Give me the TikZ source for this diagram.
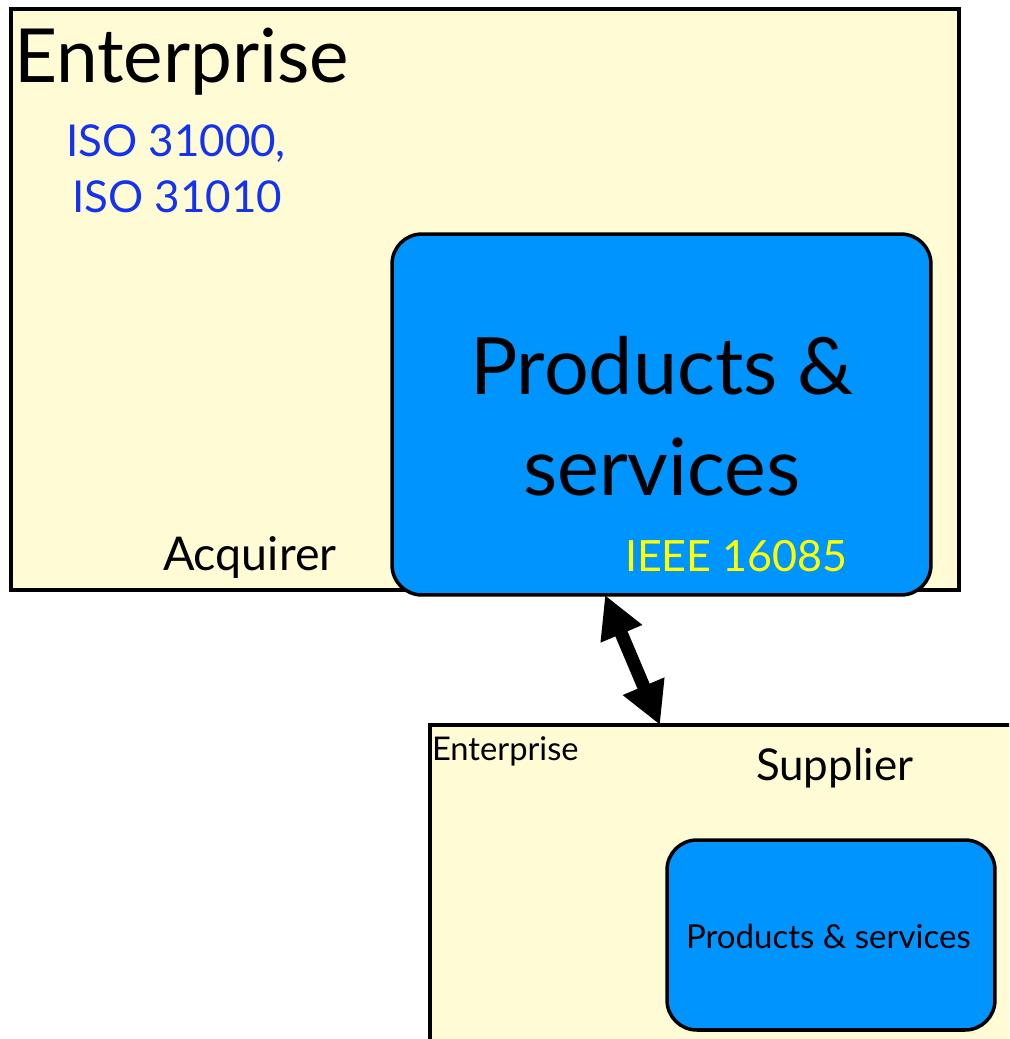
\documentclass[tikz,border=0pt]{standalone}
\usepackage{fontspec}
\setmainfont{Lato}
\usetikzlibrary{arrows.meta}
\definecolor{paper}{RGB}{255,252,213}
\definecolor{prodblue}{RGB}{0,148,255}
\definecolor{isoblue}{RGB}{20,50,240}
\definecolor{ieeeyellow}{RGB}{255,255,0}

\begin{document}
\begin{tikzpicture}[x=0.02cm, y=-0.02cm, every node/.style={inner sep=0pt, outer sep=0pt},
	box/.style={draw=black, line width=2pt, fill=paper},
	prodbox/.style={draw=black, line width=2pt, fill=prodblue, rounded corners=17pt},
	lbl/.style={anchor=base west}]
			\useasboundingbox (0,0) rectangle (1009,1039);
			\clip (0,0) rectangle (1009,1039);
			
			% acquirer side
			\node[box, minimum width=18.96cm, minimum height=11.62cm] (acq) at (485,299.5){};
			\node[prodbox, minimum width=10.78cm, minimum height=7.22cm] (prod) at (661.5,414.5){};
			
			\node[lbl, font=\fontsize{42.5}{50}\selectfont] (ent1) at (14,82){Enterprise};
			\node[lbl, text=isoblue, font=\fontsize{25}{30}\selectfont] (iso1) at (66,156){ISO 31000,};
			\node[lbl, text=isoblue, font=\fontsize{25}{30}\selectfont] (iso2) at (72,212){ISO 31010};
			\node[anchor=base, align=center, font=\fontsize{45}{57}\selectfont] (ps1) at (662,495){Products \&\\services};
			\node[lbl, text=ieeeyellow, font=\fontsize{24.5}{29}\selectfont] (ieee) at (625,571){IEEE 16085};
			\node[lbl, font=\fontsize{26.5}{31}\selectfont] (acqtxt) at (163,570){Acquirer};
			
			% supplier side
			\node[box, minimum width=12.6cm, minimum height=7.5cm] (sup) at (745,912.5){};
			\node[prodbox, minimum width=6.56cm, minimum height=3.8cm] (prod2) at (831,935){};
			
			\node[lbl, font=\fontsize{18.6}{22}\selectfont] (ent2) at (432,760){Enterprise};
			\node[lbl, font=\fontsize{25}{30}\selectfont] (suptxt) at (756,780){Supplier};
			\node[lbl, font=\fontsize{18.8}{22}\selectfont] (ps2) at (686,948){Products \& services};
			
			\draw[line width=7.5pt, {Triangle[length=24pt,width=24pt]}-{Triangle[length=24pt,width=24pt]}] ([xshift=-1.13cm]prod.south) -- ([xshift=-1.7cm]sup.north);
\end{tikzpicture}
\end{document}
